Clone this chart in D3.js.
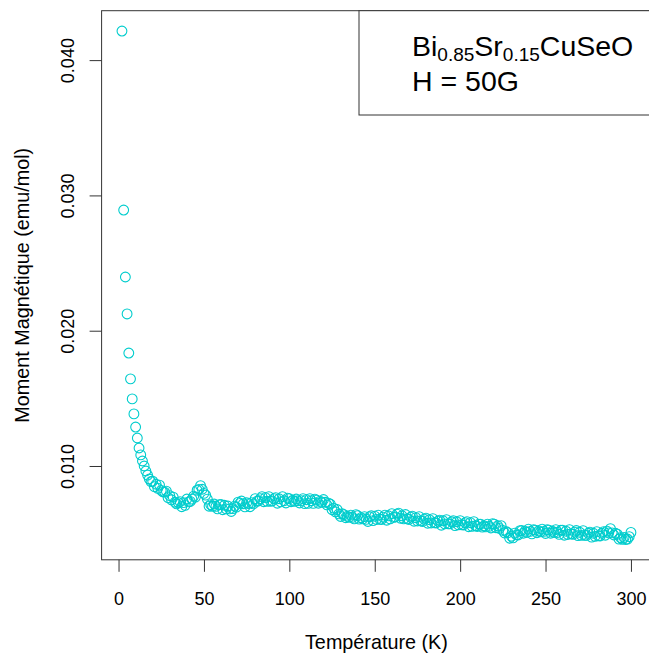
<!DOCTYPE html>
<html><head><meta charset="utf-8">
<script src="https://cdn.jsdelivr.net/npm/d3@7"></script>
<style>
html,body{margin:0;padding:0;background:#fff;}
svg{display:block;font-family:"Liberation Sans",Arial,sans-serif;}
</style></head>
<body>
<script>
// ---- data ----
const temperature = d3.range(2, 301); // 2 K .. 300 K, one reading per kelvin
const moment = [
42.15,28.92,23.97,21.24,18.35,16.44,14.96,13.85,12.88,12.07,
11.33,10.82,10.37,10.00,9.63,9.33,9.04,8.85,8.88,8.47,
8.65,8.35,8.59,8.20,8.09,8.07,8.14,7.66,7.81,7.50,
7.70,7.32,7.20,7.29,7.37,6.99,7.29,7.09,7.56,7.35,
7.38,7.55,7.77,7.70,8.21,8.27,8.55,8.28,7.98,7.85,
7.55,7.03,7.14,7.02,7.19,7.02,6.83,7.14,7.15,6.77,
7.10,6.83,7.04,6.83,6.64,6.85,7.03,6.96,7.33,7.24,
7.41,7.21,6.98,7.29,7.22,6.99,7.29,7.20,7.59,7.39,
7.42,7.59,7.74,7.36,7.66,7.39,7.74,7.39,7.42,7.59,
7.66,7.25,7.58,7.35,7.74,7.43,7.27,7.62,7.59,7.36,
7.47,7.39,7.56,7.43,7.27,7.44,7.59,7.22,7.51,7.24,
7.59,7.43,7.24,7.55,7.48,7.25,7.40,7.31,7.52,7.32,
7.13,7.25,7.18,6.77,6.88,6.61,6.78,6.46,6.27,6.47,
6.40,6.18,6.29,6.20,6.37,6.20,6.09,6.40,6.33,6.07,
6.18,6.09,6.26,6.06,5.90,6.25,6.33,5.96,6.29,6.05,
6.37,6.06,6.05,6.22,6.37,5.99,6.32,6.09,6.48,6.20,
6.23,6.44,6.51,6.14,6.32,6.09,6.41,6.09,6.05,6.22,
6.29,5.92,6.18,5.94,6.26,5.94,5.90,6.07,6.14,5.77,
6.03,5.79,6.11,5.80,5.79,5.92,6.00,5.62,5.95,5.72,
6.04,5.72,5.72,5.88,5.96,5.59,5.88,5.65,5.96,5.65,
5.64,5.81,5.89,5.51,5.81,5.54,5.89,5.58,5.53,5.70,
5.70,5.48,5.58,5.50,5.70,5.54,5.42,5.74,5.70,5.44,
5.58,5.39,5.59,5.24,5.05,5.14,5.07,4.66,4.81,4.69,
5.04,4.91,4.90,5.22,5.23,5.03,5.18,5.09,5.33,5.17,
4.98,5.29,5.26,5.07,5.21,5.13,5.33,5.17,5.01,5.29,
5.26,5.03,5.18,5.09,5.30,5.09,4.95,5.25,5.26,4.88,
5.18,4.94,5.30,4.98,4.95,5.11,5.23,4.85,5.10,4.87,
5.22,4.87,4.87,5.03,5.11,4.74,5.03,4.80,5.15,4.84,
4.83,5.03,5.15,4.88,5.18,5.05,5.37,5.06,4.90,5.03,
4.96,4.60,4.70,4.58,4.72,4.57,4.60,4.78,5.09
].map(v => v * 1e-3); // emu/mol
const xTicks = [0, 50, 100, 150, 200, 250, 300];
const yTicks = [0.010, 0.020, 0.030, 0.040];
const yTickLabels = ["0.010", "0.020", "0.030", "0.040"];
const xTitle = "Température (K)";
const yTitle = "Moment Magnétique (emu/mol)";
const legendLine1 = [["Bi", false], ["0.85", true], ["Sr", false], ["0.15", true], ["CuSeO", false]];
const legendLine2 = "H = 50G";

// ---- layout ----
const W = 649, H = 654;
const plot = {left: 101.6, right: 651.3, top: 10.7, bottom: 559.8};
const col = "#00CDCD";

const svg = d3.select("body").append("svg").attr("width", W).attr("height", H);

const pts = temperature.map((t, i) => ({t, m: moment[i]}));
const xe = d3.extent(temperature), ye = d3.extent(moment);
const xp = (xe[1] - xe[0]) * 0.04, yp = (ye[1] - ye[0]) * 0.04;
const x = d3.scaleLinear().domain([xe[0] - xp, xe[1] + xp]).range([plot.left, plot.right]);
const y = d3.scaleLinear().domain([ye[0] - yp, ye[1] + yp]).range([plot.bottom, plot.top]);

// points
svg.append("g").selectAll("circle").data(pts).join("circle")
  .attr("cx", d => x(d.t)).attr("cy", d => y(d.m)).attr("r", 4.9)
  .attr("fill", "none").attr("stroke", col).attr("stroke-width", 1.1);

// box
svg.append("rect").attr("x", plot.left).attr("y", plot.top)
  .attr("width", plot.right - plot.left).attr("height", plot.bottom - plot.top)
  .attr("fill", "none").attr("stroke", "#333").attr("stroke-width", 1);

// x axis
const gx = svg.append("g").attr("transform", `translate(0,${plot.bottom})`)
  .call(d3.axisBottom(x).tickValues(xTicks).tickSize(12).tickFormat(d3.format("d")));
gx.select(".domain").remove();
gx.selectAll(".tick line").attr("stroke", "#333");
gx.selectAll(".tick text").attr("y", 45.5).attr("dy", 0)
  .attr("font-size", 18).attr("font-family", "Liberation Sans, Arial, sans-serif").attr("fill", "#000");

// y axis
const gy = svg.append("g").attr("transform", `translate(${plot.left},0)`)
  .call(d3.axisLeft(y).tickValues(yTicks).tickSize(12).tickFormat((d, i) => yTickLabels[i]));
gy.select(".domain").remove();
gy.selectAll(".tick line").attr("stroke", "#333");
gy.selectAll(".tick text").attr("transform", "rotate(-90)")
  .attr("x", 0).attr("y", -27.6).attr("dy", 0).attr("text-anchor", "middle")
  .attr("font-size", 18).attr("font-family", "Liberation Sans, Arial, sans-serif").attr("fill", "#000");

// titles
svg.append("text").attr("x", (plot.left + plot.right) / 2).attr("y", 649)
  .attr("text-anchor", "middle").attr("font-size", 19.8).text(xTitle);
svg.append("text").attr("transform", `translate(29,${(plot.top + plot.bottom) / 2}) rotate(-90)`)
  .attr("text-anchor", "middle").attr("font-size", 19.8).text(yTitle);

// legend box
svg.append("rect").attr("x", 359).attr("y", plot.top).attr("width", plot.right - 359).attr("height", 115 - plot.top)
  .attr("fill", "#fff").attr("stroke", "#333").attr("stroke-width", 1);
const t1 = svg.append("text").attr("x", 412).attr("y", 56).attr("font-size", 28.5);
let prevSub = false;
legendLine1.forEach(([s, sub]) => {
  const dy = sub === prevSub ? 0 : (sub ? 4.5 : -4.5);
  t1.append("tspan").attr("font-size", sub ? 19 : 28.5).attr("dy", dy).text(s);
  prevSub = sub;
});
svg.append("text").attr("x", 412).attr("y", 91).attr("font-size", 28.5).text(legendLine2);
</script>
</body></html>
